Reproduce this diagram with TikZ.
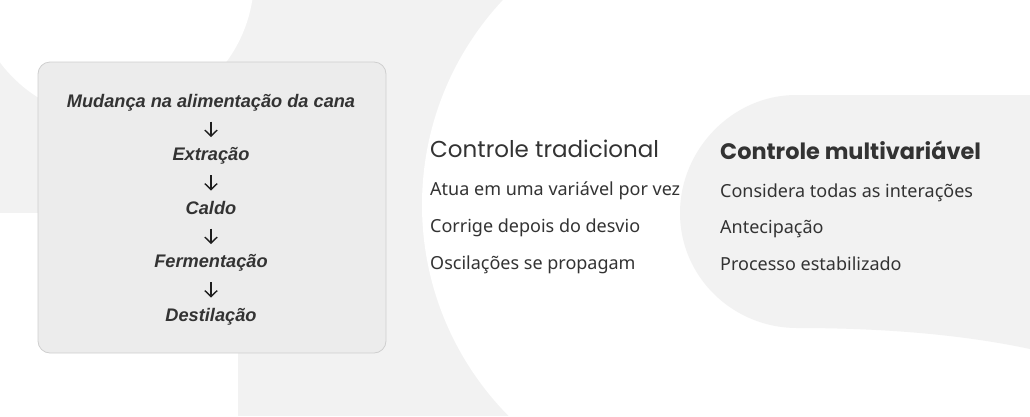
\documentclass[tikz,border=0pt]{standalone}
\usepackage{fontspec}
\setmainfont{Noto Sans}
\newfontfamily\headfont{Poppins}
\newfontfamily\flowfont{Liberation Sans}
\usetikzlibrary{arrows.meta}
\definecolor{bggray}{HTML}{F2F2F2}
\definecolor{boxfill}{HTML}{ECECEC}
\definecolor{boxline}{HTML}{CFCFCF}
\definecolor{txt}{HTML}{333333}
\definecolor{arrcol}{HTML}{1E1E1E}
\begin{document}
\begin{tikzpicture}[x=1pt,y=-1pt,
  flowtext/.style={anchor=base, inner sep=0pt, text=txt,
    font=\flowfont\bfseries\itshape\fontsize{18.2}{20}\selectfont},
  flowarr/.style={draw=arrcol, line width=1.4pt, shorten <=14.5pt, shorten >=23.5pt,
    -{Straight Barb[length=6pt,width=12.5pt]}},
  headtext/.style={anchor=base west, inner sep=0pt, text=txt,
    font=\headfont\fontsize{23}{26}\selectfont},
  headbold/.style={headtext, font=\headfont\bfseries\fontsize{22.4}{26}\selectfont},
  itemtext/.style={anchor=base west, inner sep=0pt, text=txt,
    font=\fontsize{18}{21}\selectfont},
  panelbox/.style={draw=boxline, fill=boxfill, line width=0.8pt, rounded corners=12pt,
    inner sep=0pt, minimum width=348pt, minimum height=291pt}
]
\useasboundingbox (0,0) rectangle (1030,416);
\fill[white] (0,0) rectangle (1030,416);
% background shapes
\fill[bggray] (0,0) rectangle (515,416);
\fill[white] (113,-22) circle[radius=141];
\fill[white] (0,213) rectangle (238,416);
\fill[white] (722,205) circle[radius=300];
\fill[bggray] (796,95) -- (1030,95) -- (1030,349)
  .. controls (960,334) and (880,328) .. (797,328)
  .. controls (733,328) and (680,277) .. (680,213)
  .. controls (680,149) and (733,95) .. (796,95) -- cycle;
% panel
\node[panelbox] (panel) at (212,207.5) {};
\node[flowtext] (m) at (211,107) {Mudança na alimentação da cana};
\node[flowtext] (e) at (211,160.5) {Extração};
\node[flowtext] (c) at (211,214) {Caldo};
\node[flowtext] (f) at (211,267.5) {Fermentação};
\node[flowtext] (d) at (211,321) {Destilação};
\draw[flowarr] (m.base) -- (e.base);
\draw[flowarr] (e.base) -- (c.base);
\draw[flowarr] (c.base) -- (f.base);
\draw[flowarr] (f.base) -- (d.base);
% traditional
\node[headtext] (th) at (430,157) {Controle tradicional};
\node[itemtext] (t1) at (430,195) {Atua em uma variável por vez};
\node[itemtext] (t2) at (430,232) {Corrige depois do desvio};
\node[itemtext] (t3) at (430,269) {Oscilações se propagam};
% multivariable
\node[headbold] (mh) at (720,159) {Controle multivariável};
\node[itemtext] (m1) at (720,197) {Considera todas as interações};
\node[itemtext] (m2) at (720,233) {Antecipação};
\node[itemtext] (m3) at (720,270) {Processo estabilizado};
\end{tikzpicture}
\end{document}
